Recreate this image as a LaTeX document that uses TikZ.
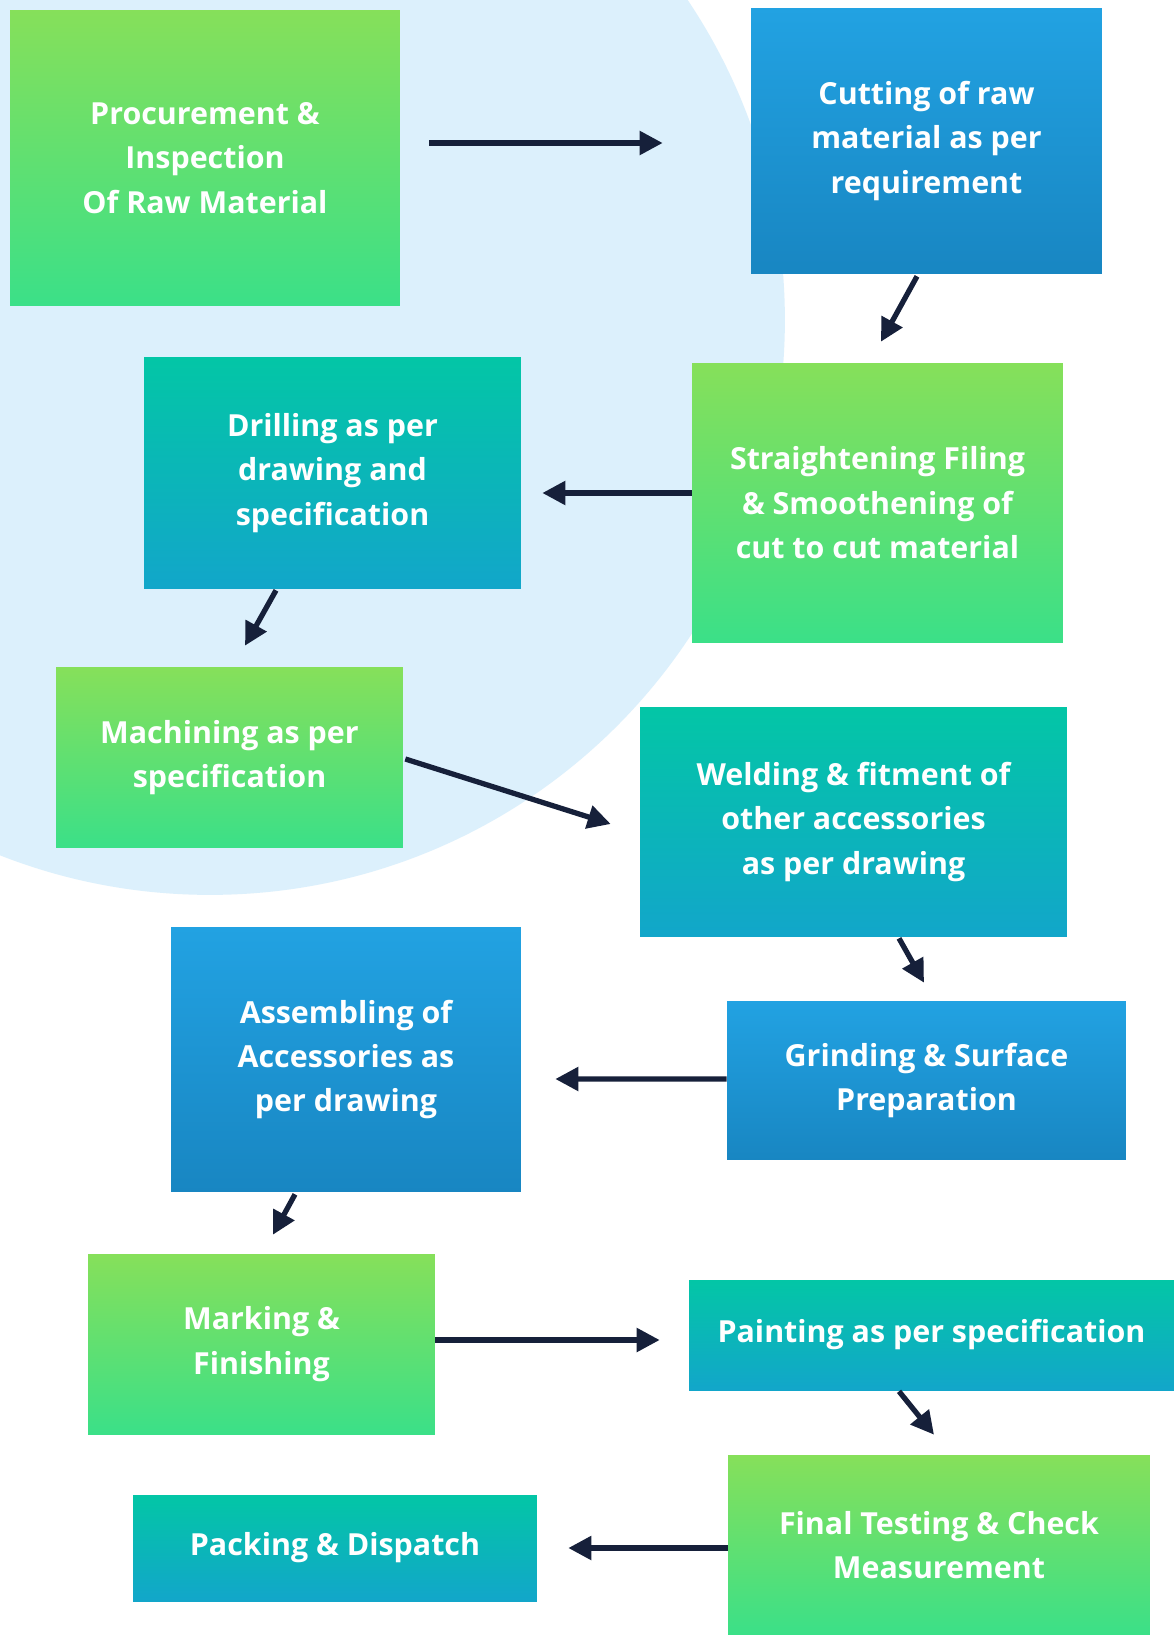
\documentclass[tikz,border=0pt]{standalone}
\usepackage{fontspec}
\setmainfont{Open Sans}
\usetikzlibrary{arrows.meta}

\definecolor{bgblue}{HTML}{DCF0FC}
\definecolor{arrowc}{HTML}{16203A}
\definecolor{greentop}{HTML}{86E05A}
\definecolor{greenbot}{HTML}{3BE088}
\definecolor{bluetop}{HTML}{22A2E2}
\definecolor{bluebot}{HTML}{1886C2}
\definecolor{tealtop}{HTML}{03C6A6}
\definecolor{tealbot}{HTML}{12A6CA}

\begin{document}
\begin{tikzpicture}[x=0.02cm,y=-0.02cm,
font=\fontsize{17.3}{25.3}\selectfont\bfseries,
flow/.style={-{Triangle[length=4.6mm,width=4.6mm]}, line width=3pt, draw=arrowc},
every node/.style={text=white, align=center, inner sep=0pt}]
\tikzstyle{gbox} = [top color=greentop, bottom color=greenbot]
\tikzstyle{bbox} = [top color=bluetop, bottom color=bluebot]
\tikzstyle{tbox} = [top color=tealtop, bottom color=tealbot]

\useasboundingbox (0,0) rectangle (1174,1635);
\fill[white] (0,0) rectangle (1174,1635);
\begin{scope}
\clip (0,0) rectangle (1174,1635);
\fill[bgblue] (210,320) circle [radius=11.5cm];
\end{scope}

% process steps
\node[gbox, minimum width=7.8cm, minimum height=5.92cm](proc) at (205,158)
 {Procurement \&\\Inspection\\Of Raw Material};
\node[bbox, minimum width=7.02cm, minimum height=5.32cm](cut) at (926.5,141)
 {Cutting of raw\\material as per\\requirement};
\node[gbox, minimum width=7.42cm, minimum height=5.6cm](straight) at (877.5,503)
 {Straightening Filing\\\& Smoothening of\\cut to cut material};
\node[tbox, minimum width=7.54cm, minimum height=4.64cm](drill) at (332.5,473)
 {Drilling as per\\drawing and\\specification};
\node[gbox, minimum width=6.94cm, minimum height=3.62cm](mach) at (229.5,757.5)
 {Machining as per\\specification};
\node[tbox, minimum width=8.54cm, minimum height=4.6cm](weld) at (853.5,822)
 {Welding \& fitment of\\other accessories\\as per drawing};
\node[bbox, minimum width=7cm, minimum height=5.3cm](assem) at (346,1059.5)
 {Assembling of\\Accessories as\\per drawing};
\node[bbox, minimum width=7.98cm, minimum height=3.18cm](grind) at (926.5,1080.5)
 {Grinding \& Surface\\Preparation};
\node[gbox, minimum width=6.94cm, minimum height=3.6cm](mark) at (261.5,1344)
 {Marking \&\\Finishing};
\node[tbox, minimum width=9.7cm, minimum height=2.2cm](paint) at (931.5,1335)
 {Painting as per specification};
\node[gbox, minimum width=8.44cm, minimum height=3.6cm](final) at (939,1545)
 {Final Testing \& Check\\Measurement};
\node[tbox, minimum width=8.08cm, minimum height=2.12cm](pack) at (335,1548)
 {Packing \& Dispatch};

% arrows
\draw[flow] ([shift={(29,-15)}]proc.east) -- ([shift={(-88,2)}]cut.west);
\draw[flow] ([shift={(-9.5,2)}]cut.south) -- ([shift={(3.5,-21)}]straight.north);
\draw[flow] ([shift={(0,-10)}]straight.west) -- ([shift={(21,20)}]drill.east);
\draw[flow] ([shift={(-56.5,1)}]drill.south) -- ([shift={(15.5,-21)}]mach.north);
\draw[flow] ([shift={(2,1.5)}]mach.east) -- ([shift={(-29,2)}]weld.west);
\draw[flow] ([shift={(45.5,1)}]weld.south) -- ([shift={(-2.5,-18)}]grind.north);
\draw[flow] ([shift={(0,-1.5)}]grind.west) -- ([shift={(34,19.5)}]assem.east);
\draw[flow] ([shift={(-51,2)}]assem.south) -- ([shift={(11.5,-19)}]mark.north);
\draw[flow] ([shift={(0,-4)}]mark.east) -- ([shift={(-29,5)}]paint.west);
\draw[flow] ([shift={(-32.5,1)}]paint.south) -- ([shift={(-5,-20)}]final.north);
\draw[flow] ([shift={(0,3)}]final.west) -- ([shift={(31,0)}]pack.east);

\end{tikzpicture}
\end{document}
